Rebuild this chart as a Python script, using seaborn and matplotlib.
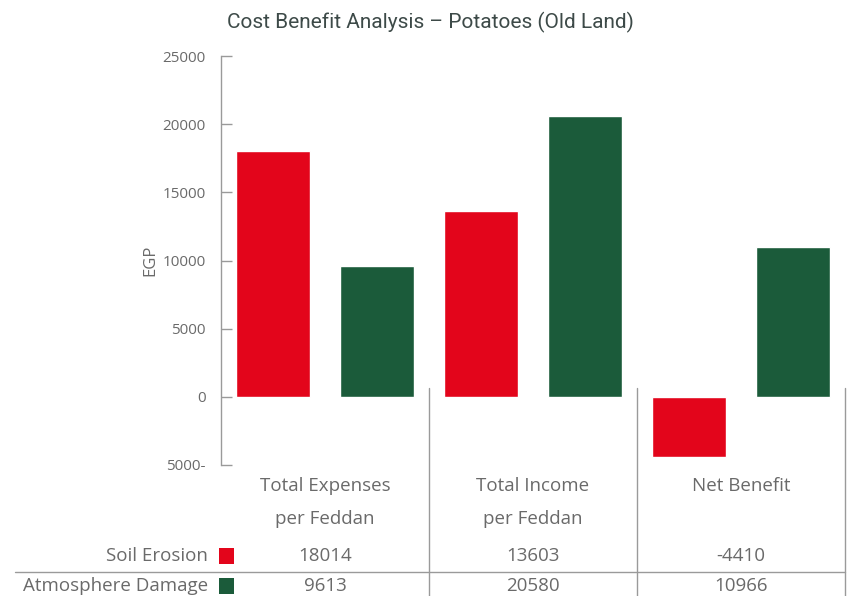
import matplotlib
matplotlib.use("Agg")
import matplotlib.pyplot as plt
import matplotlib.transforms as mtransforms
from matplotlib.lines import Line2D
from matplotlib.patches import Rectangle
import seaborn as sns
import pandas as pd

categories = ["Total Expenses\nper Feddan", "Total Income\nper Feddan", "Net Benefit"]
series_names = ["Soil Erosion", "Atmosphere Damage"]
soil_erosion = [18014, 13603, -4410]
atmosphere_damage = [9613, 20580, 10966]
y_ticks = [-5000, 0, 5000, 10000, 15000, 20000, 25000]
y_tick_labels = ["5000-", "0", "5000", "10000", "15000", "20000", "25000"]
title = "Cost Benefit Analysis \u2013 Potatoes (Old Land)"
y_label = "EGP"

colors = ["#E3051B", "#1B5B3A"]
text_grey = "#6a6a6a"
line_grey = "#9a9a9a"

df = pd.DataFrame({
    "category": categories * 2,
    "series": [series_names[0]] * 3 + [series_names[1]] * 3,
    "value": soil_erosion + atmosphere_damage,
})

sns.set_theme(style="white")
plt.rcParams["font.family"] = ["Open Sans", "DejaVu Sans"]

fig = plt.figure(figsize=(8.49, 5.96), dpi=100)
W, H = 849, 596
ax = fig.add_axes([221 / W, (H - 465) / H, (845 - 221) / W, (465 - 56) / H])

sns.barplot(data=df, x="category", y="value", hue="series", order=categories,
            hue_order=series_names, palette=colors, width=1.0, gap=0.28,
            saturation=1, legend=False, ax=ax, errorbar=None)

ax.set_xlim(-0.5, 2.5)
ax.set_ylim(-5000, 25000)
ax.set_yticks(y_ticks)
ax.set_yticklabels(y_tick_labels)
ax.set_xticks([])
ax.set_xlabel("")
ax.set_ylabel(y_label, color=text_grey, fontsize=12, labelpad=3)
ax.tick_params(axis="y", direction="in", length=8, width=1, color=line_grey,
               labelcolor=text_grey, labelsize=11, pad=11, left=True)
for s in ["top", "right", "bottom"]:
    ax.spines[s].set_visible(False)
ax.spines["left"].set_color(line_grey)
ax.spines["left"].set_linewidth(1)

fig.text(430 / W, 1 - 22 / H, title, ha="center", va="center",
         fontsize=15, color="#3d4a48",
         family=["Liberation Sans Narrow", "Roboto", "DejaVu Sans"])

# table-like area below chart
bt = mtransforms.blended_transform_factory(ax.transData, fig.transFigure)
for xv in [0.5, 1.5, 2.5]:
    fig.add_artist(Line2D([xv, xv], [1 - 388 / H, 0], transform=bt,
                          color=line_grey, lw=1))
fig.add_artist(Line2D([15 / W, 845 / W], [1 - 572 / H, 1 - 572 / H],
                      transform=fig.transFigure, color=line_grey, lw=1))

for i, cat in enumerate(categories):
    fig.text(i, 1 - 477 / H, cat, transform=bt, ha="center", va="top",
             fontsize=13.5, color=text_grey, linespacing=2.1)
    fig.text(i, 1 - 556 / H, f"{soil_erosion[i]}", transform=bt, ha="center",
             va="center", fontsize=13.5, color=text_grey)
    fig.text(i, 1 - 586 / H, f"{atmosphere_damage[i]}", transform=bt, ha="center",
             va="center", fontsize=13.5, color=text_grey)

for j, (name, yy) in enumerate(zip(series_names, [556, 586])):
    fig.text(208 / W, 1 - yy / H, name, ha="right", va="center",
             fontsize=13.5, color=text_grey)
    fig.add_artist(Rectangle((219 / W, 1 - (yy + 8) / H), 15 / W, 16 / H,
                             transform=fig.transFigure, color=colors[j], lw=0))

fig.savefig("out.png", dpi=100, facecolor="white")
